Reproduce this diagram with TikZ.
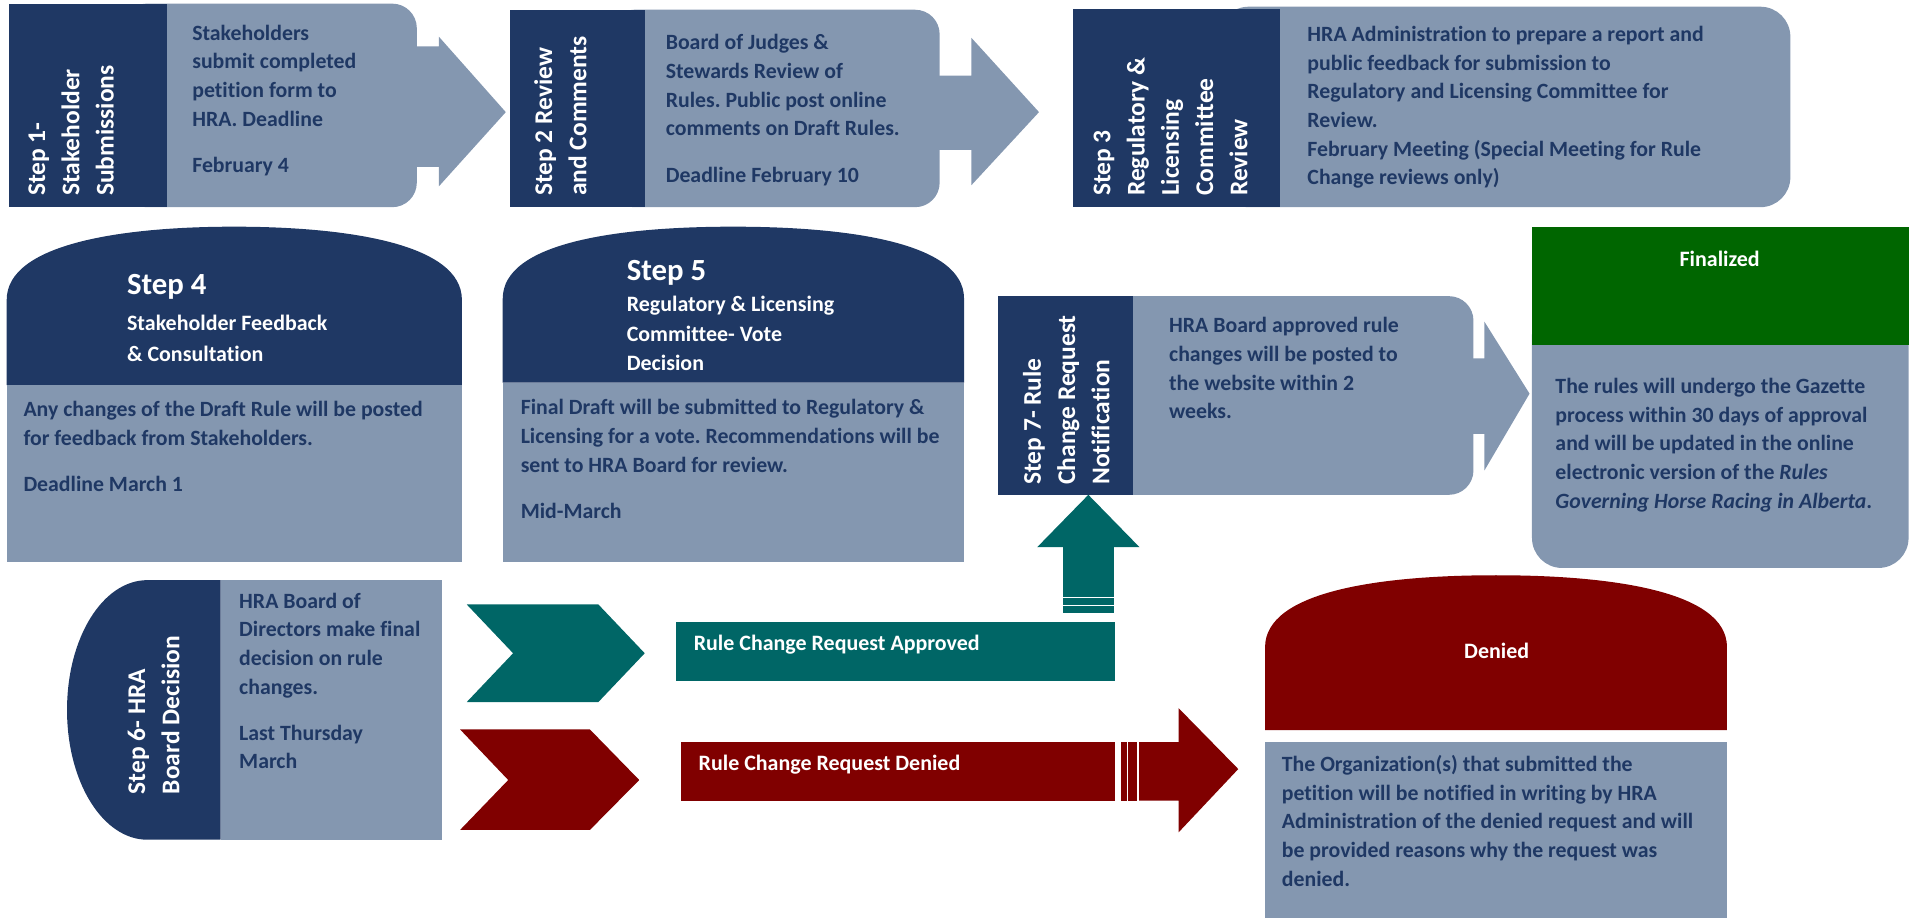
\documentclass[tikz,border=0pt]{standalone}
\usepackage{fontspec}
\setmainfont{Carlito}[Ligatures={NoCommon}]
\frenchspacing
\definecolor{stepblue}{RGB}{31,56,100}
\definecolor{stepgrey}{RGB}{132,151,176}
\definecolor{okteal}{RGB}{0,102,102}
\definecolor{nored}{RGB}{128,0,0}
\definecolor{okgreen}{RGB}{0,102,0}
\tikzset{
  body/.style={anchor=base west, inner sep=0pt, text=stepblue, font=\bfseries\fontsize{12.4}{16.3}\selectfont},
  side/.style={rotate=90, anchor=base west, inner sep=0pt, text=white, font=\bfseries\fontsize{14.5}{19.5}\selectfont},
  head/.style={anchor=base west, inner sep=0pt, text=white, font=\bfseries\fontsize{12.5}{17}\selectfont},
  big/.style={anchor=base west, inner sep=0pt, text=white, font=\bfseries\fontsize{17.5}{20}\selectfont},
}
\begin{document}
\begin{tikzpicture}[x=0.24372mm, y=-0.24372mm]
	\useasboundingbox (0,0) rectangle (1568,753);

	% row 1
	\fill[stepgrey, rounded corners=4.9mm] (100,3) rectangle (342,170);
	\fill[stepgrey] (330,38) -- (360,38) -- (360,30) -- (415,92) -- (360,153) -- (360,137) -- (330,137) -- cycle;
	\fill[stepblue] (7,3) rectangle (137,170);
	\node[side] (s1side) at (37,161) {\parbox[t]{6cm}{\raggedright Step 1-\\Stakeholder\\Submissions}};
	\node[body] (s1body) at (157.5,33) {\parbox[t]{6cm}{\raggedright Stakeholders\\submit completed\\petition form to\\HRA. Deadline\\[10pt]February 4}};

	\fill[stepgrey, rounded corners=4.9mm] (500,8) rectangle (771,170);
	\fill[stepgrey] (760,62) -- (797,62) -- (797,31) -- (852.5,92) -- (797,152) -- (797,123) -- (760,123) -- cycle;
	\fill[stepblue] (418.5,8) rectangle (529,170);
	\node[side] (s2side) at (453,161) {\parbox[t]{6cm}{\raggedright Step 2 Review\\and Comments}};
	\node[body] (s2body) at (546,41) {\parbox[t]{6cm}{\raggedright Board of Judges \&\\Stewards Review of\\Rules. Public post online\\comments on Draft Rules.\\[10pt]Deadline February 10}};

	\fill[stepgrey, rounded corners=6mm] (1000,5.5) rectangle (1469,170);
	\fill[stepblue] (880,7) rectangle (1050,170);
	\node[side] (s3side) at (911,161) {\parbox[t]{6cm}{\raggedright Step 3\\Regulatory \&\\Licensing\\Committee\\Review}};
	\node[body] (s3body) at (1072.5,34) {\parbox[t]{12cm}{\raggedright HRA Administration to prepare a report and\\public feedback for submission to\\Regulatory and Licensing Committee for\\Review.\\February Meeting (Special Meeting for Rule\\Change reviews only)}};

	% row 2
	\fill[stepblue] (5.5,316) -- (5.5,246) .. controls (5.5,200) and (100,186) .. (192,186) .. controls (285,186) and (379,200) .. (379,246) -- (379,316) -- cycle;
	\fill[stepgrey] (5.5,316) rectangle (379,461);
	\node[big] (s4title) at (104,242) {Step 4};
	\node[head] (s4head) at (104,271) {\parbox[t]{6cm}{\raggedright\baselineskip=26\dimexpr0.24372mm\relax Stakeholder Feedback\\\& Consultation}};
	\node[body] (s4body) at (19,342) {\parbox[t]{10cm}{\raggedright Any changes of the Draft Rule will be posted\\for feedback from Stakeholders.\\[10pt]Deadline March 1}};

	\fill[stepblue] (412.5,314) -- (412.5,245) .. controls (412.5,199) and (507,186) .. (601.5,186) .. controls (696,186) and (791,199) .. (791,245) -- (791,314) -- cycle;
	\fill[stepgrey] (412.5,314) rectangle (791,461);
	\node[big] (s5title) at (514,230) {Step 5};
	\node[head] (s5head) at (514,256) {\parbox[t]{6cm}{\raggedright\baselineskip=24\dimexpr0.24372mm\relax Regulatory \& Licensing\\Committee- Vote\\Decision}};
	\node[body] (s5body) at (427,340.5) {\parbox[t]{10cm}{\raggedright Final Draft will be submitted to Regulatory \&\\Licensing for a vote. Recommendations will be\\sent to HRA Board for review.\\[10pt]Mid-March}};

	\fill[stepgrey, rounded corners=4.9mm] (900,243) rectangle (1209,406);
	\fill[stepgrey] (1200,294) -- (1218,294) -- (1218,264) -- (1255,323) -- (1218,386) -- (1218,356) -- (1200,356) -- cycle;
	\fill[stepblue] (819,243) rectangle (930,406);
	\node[side] (s7side) at (854,398) {\parbox[t]{6cm}{\raggedright Step 7- Rule\\Change Request\\Notification}};
	\node[body] (s7body) at (959,273) {\parbox[t]{6cm}{\raggedright HRA Board approved rule\\changes will be posted to\\the website within 2\\weeks.}};

	\fill[stepgrey, rounded corners=6mm] (1257,250) rectangle (1566,466);
	\fill[okgreen] (1257,186) rectangle (1566,283);
	\node[head, anchor=base] (fintitle) at (1411,219) {Finalized};
	\node[body] (finbody) at (1276,323) {\parbox[t]{8cm}{\raggedright The rules will undergo the Gazette\\process within 30 days of approval\\and will be updated in the online\\electronic version of the \textit{Rules}\\\textit{Governing Horse Racing in Alberta}.}};

	% row 3
	\fill[stepgrey] (181,476) rectangle (363,689);
	\fill[stepblue] (181,476) -- (121,476) .. controls (84.5,476) and (55,523) .. (55,582.5) .. controls (55,642) and (84.5,689) .. (121,689) -- (181,689) -- cycle;
	\node[side] (s6side) at (119,652) {\parbox[t]{6cm}{\raggedright Step 6- HRA\\Board Decision}};
	\node[body] (s6body) at (196,499) {\parbox[t]{6cm}{\raggedright HRA Board of\\Directors make final\\decision on rule\\changes.\\[10pt]Last Thursday\\March}};

	\fill[okteal] (383,496) -- (491,496) -- (529,536) -- (491,576) -- (383,576) -- (421,536) -- cycle;
	\fill[nored] (377.5,598.5) -- (484,598.5) -- (524.5,640) -- (484,681) -- (377.5,681) -- (417,640) -- cycle;

	\fill[okteal] (555,510) rectangle (915,559);
	\node[head] (approved) at (569,534) {Rule Change Request Approved};
	\fill[okteal] (872,449) rectangle (914,503);
	\fill[okteal] (851,449) -- (893,406) -- (935,449) -- cycle;
	\draw[white, line width=0.7pt] (872,490) -- (914,490) (872,497) -- (914,497);

	\fill[nored] (559,609) rectangle (915,657);
	\node[head] (denied) at (573,632) {Rule Change Request Denied};
	\fill[nored] (919.5,609) rectangle (924.5,657);
	\fill[nored] (925.8,609) rectangle (933,657);
	\fill[nored] (934.6,609) -- (967,609) -- (967,581) -- (1016,631) -- (967,683) -- (967,657) -- (934.6,657) -- cycle;

	\fill[nored] (1038,599) -- (1038,531) .. controls (1038,485) and (1133,472) .. (1227.5,472) .. controls (1322,472) and (1417,485) .. (1417,531) -- (1417,599) -- cycle;
	\node[head, anchor=base] (dentitle) at (1228,540) {Denied};
	\fill[stepgrey] (1038,609) rectangle (1417,753);
	\node[body] (denbody) at (1051.5,633) {\parbox[t]{10cm}{\raggedright The Organization(s) that submitted the\\petition will be notified in writing by HRA\\Administration of the denied request and will\\be provided reasons why the request was\\denied.}};
\end{tikzpicture}
\end{document}
